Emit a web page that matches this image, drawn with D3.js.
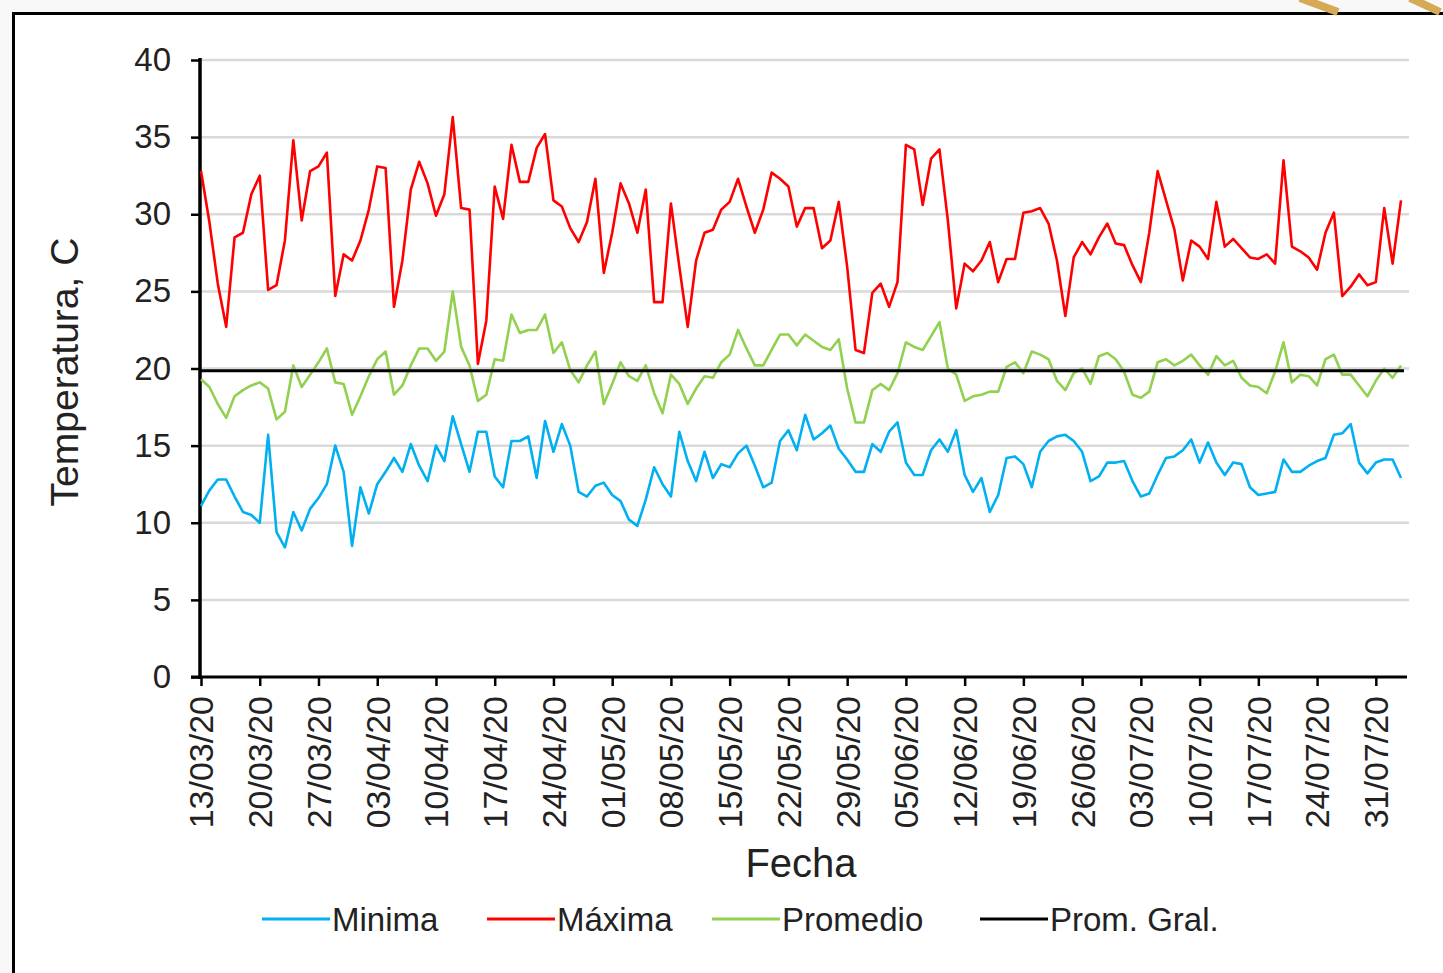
<!DOCTYPE html>
<html lang="en">
    <head>
        <meta charset="utf-8">
        <script type="text/javascript" src="https://d3js.org/d3.v7.min.js"></script>
        <style type="text/css">
          body { margin: 0; background: #f8f8f8; }
          svg { display: block; }
          text { font-family: "Liberation Sans", Arial, sans-serif; fill: #222; }
        </style>
    </head>
    <body>
      <script type="text/javascript">
        // data, one value per day from 13/03/20
        var startDate = "13/03/20";
        var tickLabels = ["13/03/20", "20/03/20", "27/03/20", "03/04/20", "10/04/20", "17/04/20", "24/04/20",
                          "01/05/20", "08/05/20", "15/05/20", "22/05/20", "29/05/20", "05/06/20", "12/06/20",
                          "19/06/20", "26/06/20", "03/07/20", "10/07/20", "17/07/20", "24/07/20", "31/07/20"];
        var yTicks = [0, 5, 10, 15, 20, 25, 30, 35, 40];

        var minima = [11.1, 12.1, 12.8, 12.8, 11.7, 10.7, 10.5, 10.0, 15.7, 9.4,
                      8.4, 10.7, 9.5, 10.9, 11.6, 12.5, 15.0, 13.3, 8.5, 12.3,
                      10.6, 12.5, 13.3, 14.2, 13.3, 15.1, 13.7, 12.7, 15.0, 14.0,
                      16.9, 15.1, 13.3, 15.9, 15.9, 13.0, 12.3, 15.3, 15.3, 15.6,
                      12.9, 16.6, 14.6, 16.4, 15.0, 12.0, 11.7, 12.4, 12.6, 11.8,
                      11.4, 10.2, 9.8, 11.5, 13.6, 12.5, 11.7, 15.9, 14.0, 12.7,
                      14.6, 12.9, 13.8, 13.6, 14.5, 15.0, 13.7, 12.3, 12.6, 15.3,
                      16.0, 14.7, 17.0, 15.4, 15.8, 16.3, 14.8, 14.1, 13.3, 13.3,
                      15.1, 14.6, 15.9, 16.5, 13.9, 13.1, 13.1, 14.7, 15.4, 14.6,
                      16.0, 13.1, 12.0, 12.9, 10.7, 11.8, 14.2, 14.3, 13.8, 12.3,
                      14.6, 15.3, 15.6, 15.7, 15.3, 14.6, 12.7, 13.0, 13.9, 13.9,
                      14.0, 12.7, 11.7, 11.9, 13.1, 14.2, 14.3, 14.7, 15.4, 13.9,
                      15.2, 13.9, 13.1, 13.9, 13.8, 12.3, 11.8, 11.9, 12.0, 14.1,
                      13.3, 13.3, 13.7, 14.0, 14.2, 15.7, 15.8, 16.4, 13.9, 13.2,
                      13.9, 14.1, 14.1, 12.9];

        var maxima = [32.8, 29.5, 25.5, 22.7, 28.5, 28.8, 31.3, 32.5, 25.1, 25.4,
                      28.3, 34.8, 29.6, 32.8, 33.1, 34.0, 24.7, 27.4, 27.0, 28.3,
                      30.3, 33.1, 33.0, 24.0, 27.0, 31.6, 33.4, 32.0, 29.9, 31.3,
                      36.3, 30.4, 30.3, 20.3, 23.1, 31.8, 29.7, 34.5, 32.1, 32.1,
                      34.3, 35.2, 30.9, 30.5, 29.1, 28.2, 29.5, 32.3, 26.2, 28.8,
                      32.0, 30.7, 28.8, 31.6, 24.3, 24.3, 30.7, 26.6, 22.7, 27.0,
                      28.8, 29.0, 30.3, 30.8, 32.3, 30.5, 28.8, 30.3, 32.7, 32.3,
                      31.8, 29.2, 30.4, 30.4, 27.8, 28.3, 30.8, 26.6, 21.2, 21.0,
                      24.9, 25.5, 24.0, 25.6, 34.5, 34.2, 30.6, 33.6, 34.2, 29.6,
                      23.9, 26.8, 26.3, 27.0, 28.2, 25.6, 27.1, 27.1, 30.1, 30.2,
                      30.4, 29.4, 27.0, 23.4, 27.2, 28.2, 27.4, 28.5, 29.4, 28.1,
                      28.0, 26.7, 25.6, 28.8, 32.8, 30.9, 29.0, 25.7, 28.3, 27.9,
                      27.1, 30.8, 27.9, 28.4, 27.8, 27.2, 27.1, 27.4, 26.8, 33.5,
                      27.9, 27.6, 27.2, 26.4, 28.8, 30.1, 24.7, 25.3, 26.1, 25.4,
                      25.6, 30.4, 26.8, 30.9];

        var promedio = [19.3, 18.8, 17.7, 16.8, 18.2, 18.6, 18.9, 19.1, 18.7, 16.7,
                        17.2, 20.2, 18.8, 19.6, 20.4, 21.3, 19.1, 19.0, 17.0, 18.2,
                        19.5, 20.6, 21.1, 18.3, 18.9, 20.2, 21.3, 21.3, 20.5, 21.1,
                        25.0, 21.4, 20.2, 17.9, 18.3, 20.6, 20.5, 23.5, 22.3, 22.5,
                        22.5, 23.5, 21.0, 21.7, 19.9, 19.1, 20.2, 21.1, 17.7, 19.0,
                        20.4, 19.5, 19.2, 20.2, 18.4, 17.1, 19.6, 19.0, 17.7, 18.7,
                        19.5, 19.4, 20.4, 20.9, 22.5, 21.3, 20.2, 20.2, 21.2, 22.2,
                        22.2, 21.5, 22.2, 21.8, 21.4, 21.2, 21.9, 18.7, 16.5, 16.5,
                        18.6, 19.0, 18.6, 19.7, 21.7, 21.4, 21.2, 22.1, 23.0, 20.0,
                        19.6, 17.9, 18.2, 18.3, 18.5, 18.5, 20.1, 20.4, 19.7, 21.1,
                        20.9, 20.6, 19.2, 18.6, 19.7, 20.0, 19.0, 20.8, 21.0, 20.6,
                        19.8, 18.3, 18.1, 18.5, 20.4, 20.6, 20.2, 20.5, 20.9, 20.2,
                        19.6, 20.8, 20.2, 20.5, 19.4, 18.9, 18.8, 18.4, 19.8, 21.7,
                        19.1, 19.6, 19.5, 18.9, 20.6, 20.9, 19.6, 19.6, 18.9, 18.2,
                        19.2, 20.0, 19.4, 20.2];

        var promGral = 19.85;

        var seriesNames = ["Minima", "Máxima", "Promedio", "Prom. Gral."];
        var seriesColors = ["#00b0f0", "#ff0000", "#92d050", "#000000"];

        // size of the page
        var w = 1443;
        var h = 973;

        var parse = d3.timeParse("%d/%m/%y");
        var fmt = d3.timeFormat("%d/%m/%y");
        var start = parse(startDate);
        var dates = minima.map(function(d, i) { return d3.timeDay.offset(start, i); });

        var svg = d3.select("body").append("svg").attr("width", w).attr("height", h);

        // white chart area with black frame
        svg.append("rect")
           .attr("x", 13.5).attr("y", 13.5)
           .attr("width", w + 20).attr("height", h + 20)
           .attr("fill", "white")
           .attr("stroke", "black")
           .attr("stroke-width", 3);

        // gold strokes in the top right corner
        svg.append("g").selectAll("line")
           .data([[1300, 1338], [1410, 1440]])
           .enter().append("line")
           .attr("x1", function(d) { return d[0]; }).attr("y1", -2)
           .attr("x2", function(d) { return d[1]; }).attr("y2", 12)
           .attr("stroke", "#d6a957").attr("stroke-width", 8);

        var xScale = d3.scaleTime()
                       .domain([dates[0], dates[dates.length - 1]])
                       .range([201, 1401]);
        var yScale = d3.scaleLinear()
                       .domain([0, 40])
                       .range([677, 60]);

        // gridlines
        svg.append("g").selectAll("line")
           .data(yTicks.slice(1))
           .enter().append("line")
           .attr("x1", 200).attr("x2", 1409)
           .attr("y1", function(d) { return yScale(d); })
           .attr("y2", function(d) { return yScale(d); })
           .attr("stroke", "#d9d9d9")
           .attr("stroke-width", 2.5);

        // y axis
        var yAxis = d3.axisLeft(yScale).tickValues(yTicks).tickSize(9).tickPadding(20);
        var gy = svg.append("g")
           .attr("transform", "translate(200,0)")
           .call(yAxis);
        gy.select(".domain").attr("stroke-width", 3.5).attr("d", "M0,58V679");
        gy.selectAll(".tick line").attr("stroke-width", 2.5);
        gy.selectAll(".tick text")
          .style("font-size", "33px")
          .style("font-family", "'Liberation Sans', Arial, sans-serif")
          .attr("fill", "#2a2a2a");

        // x axis
        var xAxis = d3.axisBottom(xScale)
                      .tickValues(tickLabels.map(parse))
                      .tickFormat(fmt)
                      .tickSize(9);
        var gx = svg.append("g")
           .attr("transform", "translate(0,677)")
           .call(xAxis);
        gx.select(".domain").attr("stroke-width", 3).attr("d", "M191,0H1407");
        gx.selectAll(".tick line").attr("stroke-width", 2.5);
        gx.selectAll(".tick text")
          .style("font-size", "34px")
          .style("font-family", "'Liberation Sans', Arial, sans-serif")
          .attr("fill", "#2a2a2a")
          .attr("text-anchor", "end")
          .attr("dy", "0.35em")
          .attr("y", 0)
          .attr("transform", "translate(0,19) rotate(-90)");

        // data lines
        var lineGen = d3.line()
                        .x(function(d, i) { return xScale(dates[i]); })
                        .y(function(d) { return yScale(d); });

        var allSeries = [minima, maxima, promedio];
        svg.append("g").selectAll("path")
           .data(allSeries)
           .enter().append("path")
           .attr("d", lineGen)
           .attr("fill", "none")
           .attr("stroke", function(d, i) { return seriesColors[i]; })
           .attr("stroke-width", 2.6)
           .attr("stroke-linejoin", "round");

        // overall mean
        svg.append("line")
           .attr("x1", xScale(dates[0]) - 1).attr("x2", xScale(dates[dates.length - 1]) + 3)
           .attr("y1", yScale(promGral)).attr("y2", yScale(promGral))
           .attr("stroke", seriesColors[3])
           .attr("stroke-width", 3);

        // axis titles
        svg.append("text")
           .attr("transform", "translate(78,372) rotate(-90)")
           .attr("text-anchor", "middle")
           .style("font-size", "39px")
           .text("Temperatura, C");
        svg.append("text")
           .attr("x", 801).attr("y", 877)
           .attr("text-anchor", "middle")
           .style("font-size", "40px")
           .text("Fecha");

        // legend
        var legendX = [262, 487, 712, 980];
        var legend = svg.append("g").selectAll("g")
           .data(seriesNames)
           .enter().append("g")
           .attr("transform", function(d, i) { return "translate(" + legendX[i] + ",919)"; });
        legend.append("line")
           .attr("x1", 0).attr("x2", 68)
           .attr("stroke", function(d, i) { return seriesColors[i]; })
           .attr("stroke-width", 3);
        legend.append("text")
           .attr("x", 70).attr("y", 12)
           .style("font-size", "33px")
           .text(function(d) { return d; });
      </script>
    </body>
</html>
